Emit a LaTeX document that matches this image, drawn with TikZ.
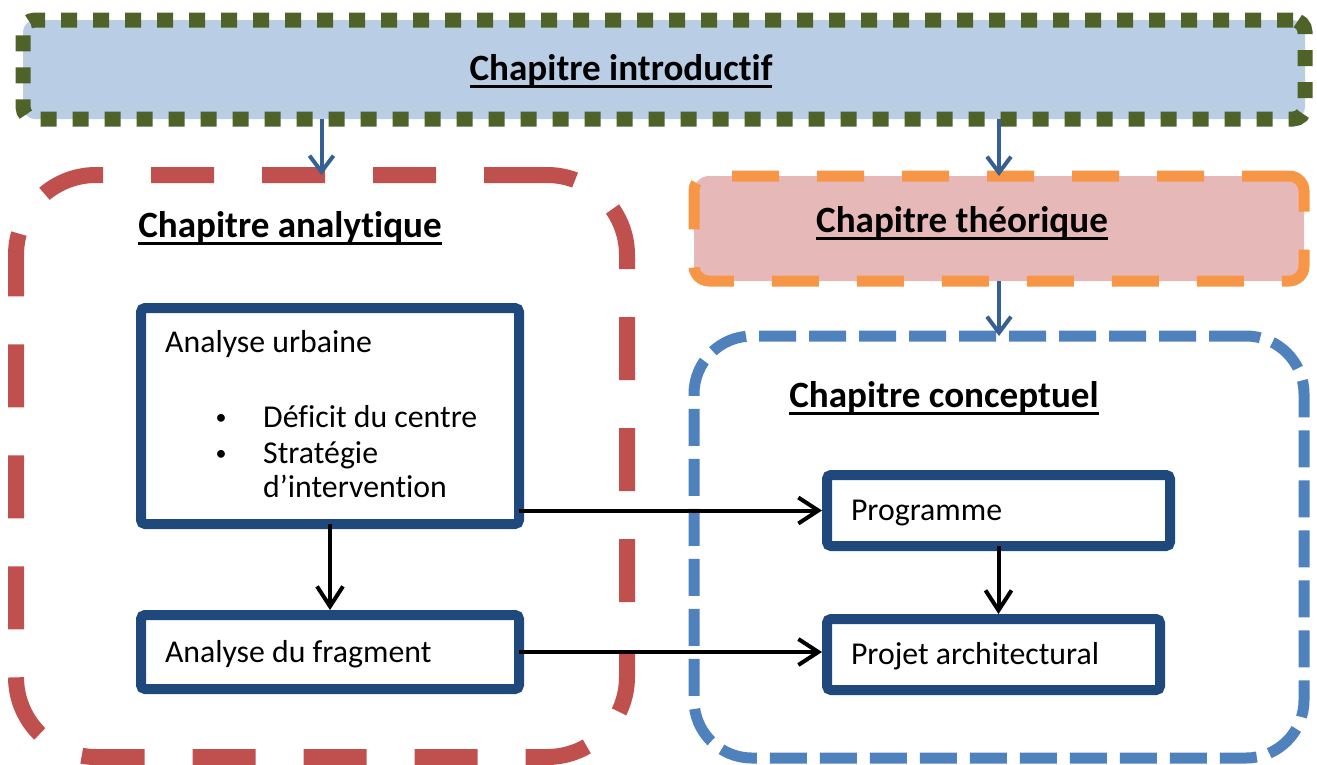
\documentclass[tikz,border=0pt]{standalone}
\usepackage{fontspec}
\setmainfont{Carlito}[Ligatures=NoCommon]
\usetikzlibrary{arrows.meta}
\definecolor{gr}{HTML}{4F6228}
\definecolor{ltblue}{HTML}{B9CDE5}
\definecolor{rd}{HTML}{C0504D}
\definecolor{org}{HTML}{F79646}
\definecolor{pink}{HTML}{E6B9B8}
\definecolor{bl}{HTML}{4F81BD}
\definecolor{dkblue}{HTML}{1F497D}
\definecolor{arrblue}{HTML}{376092}
\newcommand\ulin[1]{\setbox0\hbox{#1}\rlap{\vrule height -5pt depth 8pt width \wd0}\box0}
\tikzset{
  chapbox/.style={inner sep=0pt, outer sep=0pt},
  chap/.style={font=\fontsize{37.1}{44}\selectfont\bfseries, anchor=base, inner sep=0pt},
  body/.style={font=\fontsize{31.8}{38}\selectfont, anchor=base west, inner sep=0pt},
  bul/.style={font=\fontsize{22}{26}\selectfont, anchor=base, inner sep=0pt},
  sbox/.style={draw=dkblue, line width=10pt, rounded corners=4pt, fill=white, outer sep=0pt,
    font=\fontsize{31.8}{38}\selectfont, align=flush left, inner xsep=24pt, inner ysep=0pt,
    text height=24pt, text depth=4pt},
  blk/.style={-{Straight Barb[length=20pt,width=26pt]}, line width=4pt, black, shorten >=5pt},
  barr/.style={-{Straight Barb[length=16pt,width=24pt]}, line width=4pt, arrblue},
}
\begin{document}
\begin{tikzpicture}[x=1pt,y=-1pt]
\useasboundingbox (0,0) rectangle (1317,764);
% big boxes
\node[chapbox, draw=gr, fill=ltblue, line width=15pt, dash pattern=on 16pt off 16pt,
  rounded corners=12pt, minimum width=1282pt, minimum height=99pt] (intro) at (664,69.5) {};
\node[chapbox, draw=rd, line width=16pt, dash pattern=on 63pt off 48pt,
  rounded corners=80pt, minimum width=611pt, minimum height=582pt] (ana) at (321.5,466) {};
\node[chapbox, draw=org, fill=pink, line width=11pt, dash pattern=on 47pt off 38pt,
  rounded corners=15pt, minimum width=610pt, minimum height=105pt] (theo) at (999,228.5) {};
\node[chapbox, draw=bl, line width=11pt, dash pattern=on 37pt off 13pt,
  rounded corners=58pt, minimum width=610pt, minimum height=422pt] (conc) at (999,547) {};
% titles
\node[chap] (tintro) at (621,80) {\ulin{Chapitre introductif}};
\node[chap] (tana) at (290,237) {\ulin{Chapitre analytique}};
\node[chap] (ttheo) at (962,232) {\ulin{Chapitre théorique}};
\node[chap] (tconc) at (944,407) {\ulin{Chapitre conceptuel}};
% small boxes
\node[sbox, minimum width=378pt, minimum height=216pt] (urb) at (330,416) {};
\node[body] (u1) at (165,352) {Analyse urbaine};
\node[bul] (ub1) at (221,424) {•};
\node[body] (u2) at (263,427) {Déficit du centre};
\node[bul] (ub2) at (221,460) {•};
\node[body] (u3) at (263,463) {Stratégie};
\node[body] (u4) at (263,497) {d’intervention};
\node[sbox, minimum width=378pt, minimum height=74pt, text width=330pt] (frag) at (330,652) {Analyse du fragment};
\node[sbox, minimum width=343pt, minimum height=71pt, text width=295pt] (prog) at (998.5,510.5) {Programme};
\node[sbox, minimum width=333pt, minimum height=71pt, text width=285pt] (proj) at (993.5,654.5) {Projet architectural};
% arrows
\draw[barr] (intro.south -| ana.north) -- (ana.north);
\draw[barr] (intro.south -| theo.north) -- (theo.north);
\draw[barr] (theo.south) -- (conc.north);
\draw[blk] (urb.east |- prog.west) -- (prog.west);
\draw[blk] (urb.south) -- (frag.north);
\draw[blk] (frag.east) -- (frag.east -| proj.west);
\draw[blk] (prog.south) -- (prog.south |- proj.north);
\end{tikzpicture}
\end{document}
